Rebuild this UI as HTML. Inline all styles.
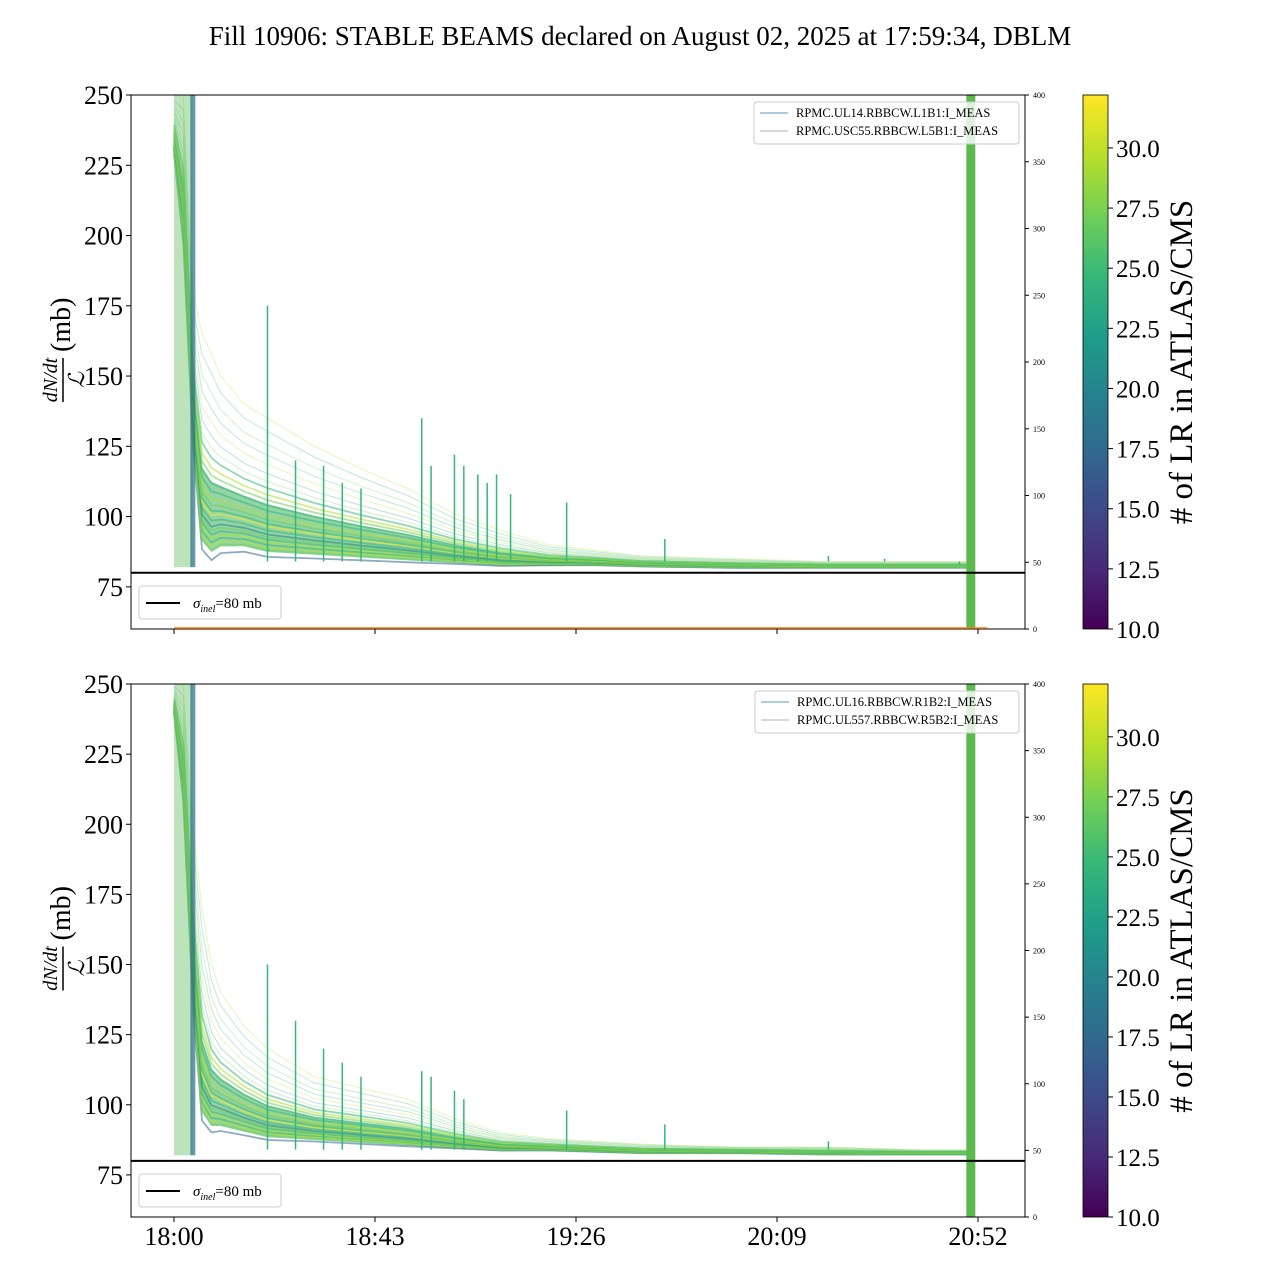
<!DOCTYPE html>
<html><head><meta charset="utf-8">
<style>
html,body{margin:0;padding:0;background:#fff;}
svg{display:block;font-family:"Liberation Serif",serif;}
</style></head>
<body>
<svg id="chart" width="1280" height="1280" viewBox="0 0 1280 1280">
<defs>
<linearGradient id="viridis" x1="0" y1="1" x2="0" y2="0">
<stop offset="0" stop-color="#440154"/><stop offset="0.11" stop-color="#482878"/><stop offset="0.22" stop-color="#3e4989"/><stop offset="0.33" stop-color="#31688e"/><stop offset="0.44" stop-color="#26828e"/><stop offset="0.55" stop-color="#1f9e89"/><stop offset="0.66" stop-color="#35b779"/><stop offset="0.77" stop-color="#6ece58"/><stop offset="0.88" stop-color="#b5de2b"/><stop offset="1" stop-color="#fde725"/>
</linearGradient>
</defs>
<text x="640" y="45" text-anchor="middle" font-size="27">Fill 10906: STABLE BEAMS declared on August 02, 2025 at 17:59:34, DBLM</text>
</svg>
<script>
// ---- data ----
const times = [0,2,4,6,8,10,15,20,30,40,50,60,70,80,90,100,120,140,160,170];
const medianTop = [230,200,130,92,88,90,90,88,87,86,85,84,83,83,83,82.5,82,82,82,82];
const upperTop = [250,250,180,165,158,150,140,135,125,117,110,101,95,90,88,86,85,84,84,84];
const medianBot = [240,210,140,98,93,93,91,89,88,87,86,85,84,84,83.5,83,83,82.5,82.5,82.5];
const upperBot = [250,250,200,170,150,140,128,120,110,106,102,95,90,88,87,86,85,85,84,84];
const spreadFactors = [-0.05,0,0.02,0.04,0.06,0.08,0.1,0.12,0.15,0.18,0.2,0.23,0.26,0.3,0.34,0.38,0.42,0.47,0.52,0.58,0.65,0.72,0.8,0.9,1.0];
const lrCounts = [18,27,29,26,30,24,28,21,26,31,25,27,29,24,26,28,30,25,27,22,29,26,28,24,30];
const spikeTimesTop = [20,26,32,36,40,53,55,60,62,65,67,69,72,84,105,140,152,168];
const spikeHeightsTop = [175,120,118,112,110,135,118,122,118,115,112,115,108,105,92,86,85,83];
const spikeTimesBot = [20,26,32,36,40,53,55,60,62,84,105,140,168];
const spikeHeightsBot = [150,130,120,115,110,112,110,105,102,98,93,87,84];
const yTicks = [75,100,125,150,175,200,225,250];
const rTicks = [0,50,100,150,200,250,300,350,400];
const cbTicks = [10.0,12.5,15.0,17.5,20.0,22.5,25.0,27.5,30.0];
const xTickMins = [0,43,86,129,172];
const xTickLabels = ["18:00","18:43","19:26","20:09","20:52"];
const sigma = 80;

const svg = document.getElementById('chart');
const NS = 'http://www.w3.org/2000/svg';
function mk(tag, attrs, parent){const e=document.createElementNS(NS,tag);for(const k in attrs)e.setAttribute(k,attrs[k]);(parent||svg).appendChild(e);return e;}
const X0=131,X1=1025;
function xs(m){return 174 + m*201/43;}
const vir=["#440154","#482878","#3e4989","#31688e","#26828e","#1f9e89","#35b779","#6ece58","#b5de2b","#fde725"];
function col(v){let t=(v-10)/22.2;t=Math.max(0,Math.min(1,t));return vir[Math.round(t*9)];}

function panel(top,bot,med,up,spT,spH,leg,pname){
  const ys=v=>bot-(v-60)*(bot-top)/190;
  const g=mk('g',{});
  const clip=mk('clipPath',{id:'c'+pname},g);mk('rect',{x:X0,y:top,width:X1-X0,height:bot-top},clip);
  const lines=mk('g',{'clip-path':'url(#c'+pname+')',},g);
  // dense core fill
  const lo=times.map((t,j)=>xs(t).toFixed(1)+','+ys(med[j]-0.6).toFixed(1));
  const hi=times.map((t,j)=>xs(t).toFixed(1)+','+ys(med[j]+0.35*(up[j]-med[j])).toFixed(1)).reverse();
  const core=mk('polygon',{points:lo.concat(hi).join(' '),fill:'#4cb86a','fill-opacity':0.6},lines);
  
  spreadFactors.forEach((f,i)=>{
    const pts=times.map((t,j)=>xs(t).toFixed(1)+','+ys(med[j]+f*(up[j]-med[j])).toFixed(1)).join(' ');
    const p=mk('polyline',{points:pts,fill:'none',stroke:col(lrCounts[i]),'stroke-width':f>0.5?1:1.8,'stroke-opacity':f>0.5?0.3:0.55},lines);
    
    
  });
  const band=mk('rect',{x:xs(0),y:top,width:xs(4)-xs(0),height:ys(82)-top,fill:'#6cc26a','fill-opacity':0.45},lines);
  
  const dk=mk('rect',{x:xs(3.5),y:top,width:5,height:ys(82)-top,fill:'#2a6e86','fill-opacity':0.7},lines);
  
  spT.forEach((t,i)=>{
    const s=mk('line',{x1:xs(t),x2:xs(t),y1:ys(spH[i]),y2:ys(84),stroke:'#35b779','stroke-width':1.5},lines);
    
  });
  const vb=mk('rect',{x:xs(169.5),y:top,width:9,height:bot-top,fill:'#5cb84f'},g);
  
  const sl=mk('line',{x1:X0,x2:X1,y1:ys(sigma),y2:ys(sigma),stroke:'#000','stroke-width':2},g);
  
  mk('rect',{x:X0,y:top,width:X1-X0,height:bot-top,fill:'none',stroke:'#000','stroke-width':1,},g);
  yTicks.forEach(v=>{const y=ys(v);mk('line',{x1:X0-5,x2:X0,y1:y,y2:y,stroke:'#000'},g);
    const t=mk('text',{x:X0-8,y:y+9,'text-anchor':'end','font-size':26},g);t.textContent=v;
    });
  rTicks.forEach(v=>{const y=bot-v*(bot-top)/400;mk('line',{x1:X1,x2:X1+4,y1:y,y2:y,stroke:'#000'},g);
    const t=mk('text',{x:X1+8,y:y+3,'font-size':8},g);t.textContent=v;
    });
  xTickMins.forEach(m=>mk('line',{x1:xs(m),x2:xs(m),y1:bot,y2:bot+5,stroke:'#000'},g));
  const yl=mk('g',{transform:'translate(62,'+((top+bot)/2)+') rotate(-90)',},g);
  let t=mk('text',{x:-18,y:-5,'text-anchor':'middle','font-size':20,'font-style':'italic'},yl);t.textContent='dN/dt';
  mk('line',{x1:-40,x2:4,y1:1,y2:1,stroke:'#000','stroke-width':1.5},yl);
  t=mk('text',{x:-18,y:22,'text-anchor':'middle','font-size':22,'font-style':'italic'},yl);t.textContent='ℒ';
  t=mk('text',{x:10,y:8,'font-size':28},yl);t.textContent='(mb)';
  const lg=mk('g',{},g);
  mk('rect',{x:leg.x,y:top+7,width:X1-6-leg.x,height:42,rx:3,fill:'#fff','fill-opacity':0.8,stroke:'#ccc'},lg);
  mk('line',{x1:leg.x+6,x2:leg.x+34,y1:top+18,y2:top+18,stroke:'#1f77b4','stroke-width':0.8},lg);
  mk('line',{x1:leg.x+6,x2:leg.x+34,y1:top+36,y2:top+36,stroke:'#999','stroke-width':0.8},lg);
  t=mk('text',{x:leg.x+42,y:top+22,'font-size':12.5},lg);t.textContent=leg.a;
  t=mk('text',{x:leg.x+42,y:top+40,'font-size':12.5},lg);t.textContent=leg.b;
  const l2=mk('g',{},g);
  mk('rect',{x:139,y:bot-43,width:142,height:33,rx:3,fill:'#fff','fill-opacity':0.8,stroke:'#ccc'},l2);
  mk('line',{x1:146,x2:180,y1:bot-26,y2:bot-26,stroke:'#000','stroke-width':2},l2);
  t=mk('text',{x:193,y:bot-21,'font-size':15},l2);
  t.innerHTML='<tspan font-style="italic">σ</tspan><tspan font-size="10" dy="4" font-style="italic">inel</tspan><tspan dy="-4">=80 mb</tspan>';
  const cb=mk('g',{},g);
  mk('rect',{x:1083,y:top,width:25,height:bot-top,fill:'url(#viridis)',stroke:'#000','stroke-width':0.8},cb);
  cbTicks.forEach(v=>{const y=bot-(v-10)*(bot-top)/22.2;mk('line',{x1:1108,x2:1113,y1:y,y2:y,stroke:'#000'},cb);
    const tt=mk('text',{x:1116,y:y+9,'font-size':25},cb);tt.textContent=v.toFixed(1);
    });
  t=mk('text',{x:0,y:0,'font-size':33,'text-anchor':'middle',transform:'translate(1192,'+((top+bot)/2)+') rotate(-90)'},cb);
  t.textContent='# of LR in ATLAS/CMS';
  
  return g;
}
panel(95,629,medianTop,upperTop,spikeTimesTop,spikeHeightsTop,{x:754,a:'RPMC.UL14.RBBCW.L1B1:I_MEAS',b:'RPMC.USC55.RBBCW.L5B1:I_MEAS'},'top-panel');
mk('line',{x1:xs(0),x2:xs(174),y1:628,y2:628,stroke:'#ff7f0e','stroke-width':1.5,});
panel(684,1217,medianBot,upperBot,spikeTimesBot,spikeHeightsBot,{x:755,a:'RPMC.UL16.RBBCW.R1B2:I_MEAS',b:'RPMC.UL557.RBBCW.R5B2:I_MEAS'},'bottom-panel');
xTickMins.forEach((m,i)=>{const t=mk('text',{x:xs(m),y:1245,'text-anchor':'middle','font-size':26});t.textContent=xTickLabels[i];
  });
</script>
</body></html>
